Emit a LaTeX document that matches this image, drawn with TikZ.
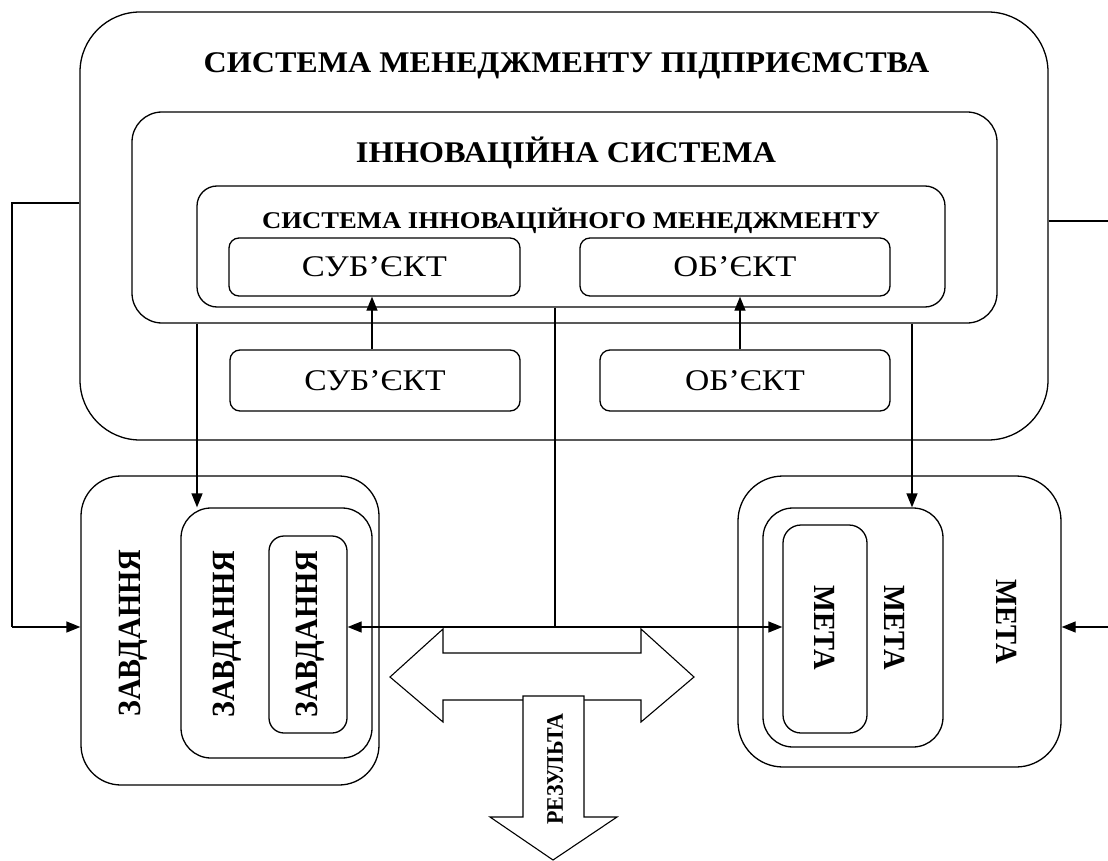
\documentclass[tikz,border=0pt]{standalone}
\usepackage{fontspec}
\setmainfont{Liberation Serif}
\usetikzlibrary{arrows.meta}
% horizontal stretch of a piece of text
\newcommand{\xstretch}[2]{\scalebox{#1}[1]{#2}}
\newcommand{\ystretch}[2]{\scalebox{1}[#1]{#2}}
\begin{document}
\begin{tikzpicture}[x=1pt,y=-1pt,
  line width=1.3pt,
  box/.style={draw,rounded corners=#1,inner sep=0pt},
  box/.default=10pt,
  ttl/.style={inner sep=0pt,anchor=base},
  arr/.style={-{Triangle[length=14pt,width=11pt]}},
  darr/.style={{Triangle[length=14pt,width=11pt]}-{Triangle[length=14pt,width=11pt]}},
  vtxt/.style={font=\bfseries\fontsize{30}{30}\selectfont,inner sep=0pt},
  mtxt/.style={font=\bfseries\fontsize{28.5}{28.5}\selectfont,inner sep=0pt},
  sbox/.style={box,font=\fontsize{30}{30}\selectfont}]
\useasboundingbox (0,0) rectangle (1108,861);

% management system of the enterprise
\node[box=60pt,minimum width=968pt,minimum height=428pt] (smp) at (564,226) {};
\node[ttl,font=\bfseries\fontsize{30}{30}\selectfont] (smpt) at (566.5,73)
  {\xstretch{1.07}{СИСТЕМА МЕНЕДЖМЕНТУ ПІДПРИЄМСТВА}};

% innovation system
\node[box=30pt,minimum width=865pt,minimum height=211pt] (is) at (564.5,217.5) {};
\node[ttl,font=\bfseries\fontsize{30}{30}\selectfont] (ist) at (566,163)
  {\xstretch{1.08}{ІННОВАЦІЙНА СИСТЕМА}};

% innovation management system
\node[box=20pt,minimum width=748pt,minimum height=121pt] (sim) at (571,246.5) {};
\node[ttl,font=\bfseries\fontsize{24}{24}\selectfont] (simt) at (571,229)
  {\xstretch{1.11}{СИСТЕМА ІННОВАЦІЙНОГО МЕНЕДЖМЕНТУ}};

\node[sbox,minimum width=291pt,minimum height=58pt] (subj1) at (374.5,267) {\xstretch{1.15}{СУБ’ЄКТ}};
\node[sbox,minimum width=310pt,minimum height=58pt] (obj1) at (735,267) {\xstretch{1.15}{ОБ’ЄКТ}};
\node[sbox,minimum width=290pt,minimum height=61pt] (subj2) at (375,380.5) {\xstretch{1.12}{СУБ’ЄКТ}};
\node[sbox,minimum width=290pt,minimum height=61pt] (obj2) at (745,380.5) {\xstretch{1.12}{ОБ’ЄКТ}};

% tasks
\node[box=40pt,minimum width=298pt,minimum height=309pt] (z1) at (230,630.5) {};
\node[box=30pt,minimum width=191pt,minimum height=250pt] (z2) at (276.5,633) {};
\node[box=15pt,minimum width=78pt,minimum height=197pt] (z3) at (308,634.5) {};
\node[vtxt,rotate=90] (z1t) at (133,633) {\ystretch{1.08}{ЗАВДАННЯ}};
\node[vtxt,rotate=90] (z2t) at (227,634) {\ystretch{1.08}{ЗАВДАННЯ}};
\node[vtxt,rotate=90] (z3t) at (310,634) {\ystretch{1.08}{ЗАВДАННЯ}};

% goals
\node[box=45pt,minimum width=323pt,minimum height=291pt] (m1) at (899.5,621.5) {};
\node[box=30pt,minimum width=180pt,minimum height=239pt] (m2) at (853,627.5) {};
\node[box=18pt,minimum width=84pt,minimum height=208pt] (m3) at (825,629) {};
\node[mtxt,rotate=-90] (m1t) at (1007,622) {\ystretch{1.08}{МЕТА}};
\node[mtxt,rotate=-90] (m2t) at (895,628) {\ystretch{1.08}{МЕТА}};
\node[mtxt,rotate=-90] (m3t) at (825,628) {\ystretch{1.08}{МЕТА}};

% connector points
\coordinate (hub) at (555,627);
\coordinate (lt) at (12,203);
\coordinate (lb) at (12,627);
\coordinate (rt) at (1108,221);
\coordinate (rb) at (1108,627);

\draw (smp.west |- lt) -- (lt) -- (lb);
\draw[arr] (lb) -- (z1.west |- lb);
\draw (smp.east |- rt) -- (rt);
\draw[arr] (rb) -- (m1.east |- rb);
\draw[arr] (subj2.north -| 372,0) -- (subj1.south -| 372,0);
\draw[arr] (obj2.north -| 740,0) -- (obj1.south -| 740,0);
\draw[arr] (is.south -| 197,0) -- (z2.north -| 197,0);
\draw[arr] (is.south -| 912,0) -- (m2.north -| 912,0);
\draw (sim.south -| hub) -- (hub);
\draw[darr] (z3.east |- hub) -- (m3.west |- hub);

% two-way exchange arrow
\draw[fill=white,line width=1.1pt] (443,653) -- (443,629) -- (390,677) -- (443,722) -- (443,700)
  -- (641,700) -- (641,722) -- (694,677) -- (641,629) -- (641,653) -- cycle;
% result arrow
\draw[fill=white,line width=1.1pt] (523,696) -- (584,696) -- (584,817) -- (617,817) -- (553,860)
  -- (490,817) -- (523,817) -- cycle;
\node[inner sep=0pt,rotate=90,font=\bfseries\fontsize{22}{22}\selectfont] (res) at (555,769)
  {\ystretch{1.08}{РЕЗУЛЬТА}};
\end{tikzpicture}
\end{document}
